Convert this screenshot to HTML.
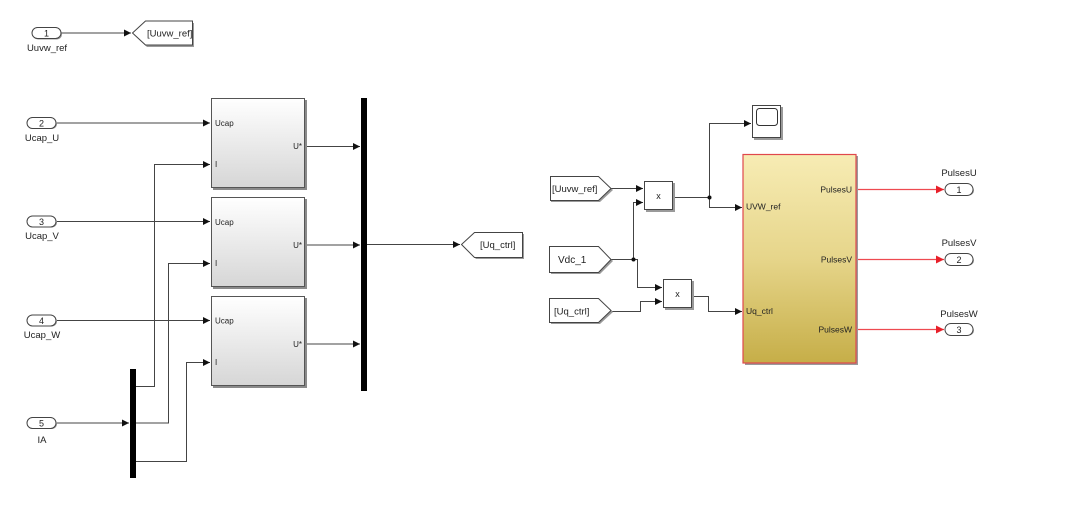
<!DOCTYPE html>
<html>
<head>
<meta charset="utf-8">
<style>
html,body{margin:0;padding:0;background:#fff;}
svg{display:block;}
text{font-family:"Liberation Sans",Arial,sans-serif;fill:#222;}
</style>
</head>
<body>
<svg width="1080" height="509" viewBox="0 0 1080 509" xmlns="http://www.w3.org/2000/svg">
<defs>
<linearGradient id="gsub" x1="0" y1="0" x2="0" y2="1">
<stop offset="0" stop-color="#ffffff"/>
<stop offset="1" stop-color="#d6d6d6"/>
</linearGradient>
<linearGradient id="gyel" x1="0" y1="0" x2="0" y2="1">
<stop offset="0" stop-color="#f7ecb4"/>
<stop offset="0.5" stop-color="#e6d58a"/>
<stop offset="1" stop-color="#c6ae48"/>
</linearGradient>
<marker id="ar" markerWidth="8" markerHeight="8" refX="7" refY="3.5" orient="auto" markerUnits="userSpaceOnUse">
<path d="M0,0 L7,3.5 L0,7 z" fill="#111"/>
</marker>
<marker id="arr" markerWidth="10" markerHeight="10" refX="8" refY="4" orient="auto" markerUnits="userSpaceOnUse">
<path d="M0,0 L8,4 L0,8 z" fill="#e8202a"/>
</marker>
</defs>

<g stroke="#444" stroke-width="1" fill="none">
<!-- inport 1 to goto -->
<polyline points="61,33 131,33" marker-end="url(#ar)"/>
<!-- inports 2-4 -->
<polyline points="57,123 210,123" marker-end="url(#ar)"/>
<polyline points="57,221.5 210,221.5" marker-end="url(#ar)"/>
<polyline points="57,320.5 210,320.5" marker-end="url(#ar)"/>
<!-- inport 5 to demux -->
<polyline points="57,423 129,423" marker-end="url(#ar)"/>
<!-- demux outputs -->
<polyline points="136,386.5 154.5,386.5 154.5,164.5 210,164.5" marker-end="url(#ar)"/>
<polyline points="136,423 168.5,423 168.5,263.5 210,263.5" marker-end="url(#ar)"/>
<polyline points="136,461.5 186.5,461.5 186.5,362.5 210,362.5" marker-end="url(#ar)"/>
<!-- U* outputs -->
<polyline points="306,146.5 360,146.5" marker-end="url(#ar)"/>
<polyline points="306,245 360,245" marker-end="url(#ar)"/>
<polyline points="306,344 360,344" marker-end="url(#ar)"/>
<!-- mux out -->
<polyline points="367,244.5 460,244.5" marker-end="url(#ar)"/>

<!-- right side -->
<polyline points="611,188.5 643,188.5" marker-end="url(#ar)"/>
<polyline points="611,259.5 633.5,259.5 633.5,202.5 643,202.5" marker-end="url(#ar)"/>
<polyline points="633.5,259.5 637.5,259.5 637.5,287.5 662,287.5" marker-end="url(#ar)"/>
<polyline points="611,311.5 640.5,311.5 640.5,301.5 662,301.5" marker-end="url(#ar)"/>
<polyline points="673,197.5 709.5,197.5"/>
<polyline points="709.5,197.5 709.5,123.5 751,123.5" marker-end="url(#ar)"/>
<polyline points="709.5,197.5 709.5,207.5 742,207.5" marker-end="url(#ar)"/>
<polyline points="692,296.5 708.5,296.5 708.5,311.5 742,311.5" marker-end="url(#ar)"/>
</g>
<circle cx="709.5" cy="197.5" r="2" fill="#111"/>
<circle cx="633.5" cy="259.5" r="2" fill="#111"/>

<!-- red outputs -->
<g stroke="#ee4a50" stroke-width="1.2" fill="none">
<polyline points="856,189.5 944,189.5" marker-end="url(#arr)"/>
<polyline points="856,259.5 944,259.5" marker-end="url(#arr)"/>
<polyline points="856,329.5 944,329.5" marker-end="url(#arr)"/>
</g>

<!-- Inports -->
<g>
<rect x="33" y="29.5" width="29" height="10" rx="5" fill="#9a9a9a"/>
<rect x="32" y="27.5" width="29" height="11" rx="5.5" fill="#fff" stroke="#444"/>
<text x="46.5" y="36.5" font-size="9" text-anchor="middle">1</text>
<text x="47" y="51" font-size="9.5" text-anchor="middle">Uuvw_ref</text>

<rect x="28" y="119" width="29" height="10" rx="5" fill="#9a9a9a"/>
<rect x="27" y="117.5" width="29" height="11" rx="5.5" fill="#fff" stroke="#444"/>
<text x="41.5" y="126.5" font-size="9" text-anchor="middle">2</text>
<text x="42" y="141" font-size="9.5" text-anchor="middle">Ucap_U</text>

<rect x="28" y="217.5" width="29" height="10" rx="5" fill="#9a9a9a"/>
<rect x="27" y="216" width="29" height="11" rx="5.5" fill="#fff" stroke="#444"/>
<text x="41.5" y="225" font-size="9" text-anchor="middle">3</text>
<text x="42" y="239" font-size="9.5" text-anchor="middle">Ucap_V</text>

<rect x="28" y="316.5" width="29" height="10" rx="5" fill="#9a9a9a"/>
<rect x="27" y="315" width="29" height="11" rx="5.5" fill="#fff" stroke="#444"/>
<text x="41.5" y="324" font-size="9" text-anchor="middle">4</text>
<text x="42" y="338" font-size="9.5" text-anchor="middle">Ucap_W</text>

<rect x="28" y="419" width="29" height="10" rx="5" fill="#9a9a9a"/>
<rect x="27" y="417.5" width="29" height="11" rx="5.5" fill="#fff" stroke="#444"/>
<text x="41.5" y="426.5" font-size="9" text-anchor="middle">5</text>
<text x="42" y="443" font-size="9.5" text-anchor="middle">IA</text>
</g>

<!-- Goto [Uuvw_ref] -->
<polygon points="134,35 147,23 194,23 194,47 147,47" fill="#9a9a9a"/>
<polygon points="132.5,33 145.5,21 192.5,21 192.5,45 145.5,45" fill="#fff" stroke="#444"/>
<text x="147" y="36.5" font-size="9.5">[Uuvw_ref]</text>

<!-- Goto [Uq_ctrl] -->
<polygon points="463,246 476,234 524,234 524,259 476,259" fill="#9a9a9a"/>
<polygon points="461.5,244.5 474.5,232.5 522.5,232.5 522.5,257.5 474.5,257.5" fill="#fff" stroke="#444"/>
<text x="480" y="248" font-size="9.5">[Uq_ctrl]</text>

<!-- Subsystem blocks -->
<g>
<rect x="213" y="100" width="94" height="90" fill="#8a8a8a"/>
<rect x="211.5" y="98.5" width="93" height="89" fill="url(#gsub)" stroke="#555"/>
<text x="215" y="126" font-size="8">Ucap</text>
<text x="215" y="167" font-size="8">I</text>
<text x="302" y="149" font-size="8" text-anchor="end">U*</text>

<rect x="213" y="199" width="94" height="90" fill="#8a8a8a"/>
<rect x="211.5" y="197.5" width="93" height="89" fill="url(#gsub)" stroke="#555"/>
<text x="215" y="225" font-size="8">Ucap</text>
<text x="215" y="266" font-size="8">I</text>
<text x="302" y="248" font-size="8" text-anchor="end">U*</text>

<rect x="213" y="298" width="94" height="90" fill="#8a8a8a"/>
<rect x="211.5" y="296.5" width="93" height="89" fill="url(#gsub)" stroke="#555"/>
<text x="215" y="323.5" font-size="8">Ucap</text>
<text x="215" y="365" font-size="8">I</text>
<text x="302" y="347" font-size="8" text-anchor="end">U*</text>
</g>

<!-- Mux / Demux bars -->
<rect x="361" y="98" width="6" height="293" fill="#000"/>
<rect x="130" y="369" width="6" height="109" fill="#000"/>

<!-- From blocks -->
<polygon points="551,178 600,178 613,190 600,202 551,202" fill="#9a9a9a"/>
<polygon points="550.5,176.5 598.5,176.5 611,188.5 598.5,200.5 550.5,200.5" fill="#fff" stroke="#444"/>
<text x="552" y="192" font-size="9.5">[Uuvw_ref]</text>

<polygon points="551,248 600,248 613,261 600,274 551,274" fill="#9a9a9a"/>
<polygon points="549.5,246.5 598.5,246.5 611,259.5 598.5,272.5 549.5,272.5" fill="#fff" stroke="#444"/>
<text x="558" y="263" font-size="10">Vdc_1</text>

<polygon points="551,300 600,300 613,312 600,324 551,324" fill="#9a9a9a"/>
<polygon points="549.5,298.5 598.5,298.5 611,310.5 598.5,322.5 549.5,322.5" fill="#fff" stroke="#444"/>
<text x="554" y="314.5" font-size="9.5">[Uq_ctrl]</text>

<!-- Product blocks -->
<rect x="646" y="183" width="29" height="29" fill="#9a9a9a"/>
<rect x="644.5" y="181.5" width="28" height="28" fill="#fff" stroke="#444"/>
<text x="658.5" y="199" font-size="9" text-anchor="middle">x</text>

<rect x="665" y="281" width="29" height="29" fill="#9a9a9a"/>
<rect x="663.5" y="279.5" width="28" height="28" fill="#fff" stroke="#444"/>
<text x="677.5" y="297" font-size="9" text-anchor="middle">x</text>

<!-- Scope -->
<rect x="754" y="107" width="29" height="33" fill="#9a9a9a"/>
<rect x="752.5" y="105.5" width="28" height="32" fill="#fff" stroke="#444"/>
<rect x="756.5" y="108.5" width="21" height="17" rx="3" fill="#fff" stroke="#333"/>

<!-- Yellow subsystem -->
<rect x="745" y="156" width="113" height="209" fill="#9a9a9a"/>
<rect x="743" y="154.5" width="113" height="208.5" fill="url(#gyel)" stroke="#e0484c" stroke-width="1.2"/>
<text x="746" y="209.5" font-size="8.5">UVW_ref</text>
<text x="746" y="314" font-size="8.5">Uq_ctrl</text>
<text x="852" y="192.5" font-size="8.5" text-anchor="end">PulsesU</text>
<text x="852" y="262.5" font-size="8.5" text-anchor="end">PulsesV</text>
<text x="852" y="332.5" font-size="8.5" text-anchor="end">PulsesW</text>

<!-- Outports -->
<rect x="946" y="185.5" width="28" height="10" rx="5" fill="#9a9a9a"/>
<rect x="945" y="183.5" width="28" height="12" rx="6" fill="#fff" stroke="#444"/>
<text x="959" y="193" font-size="9" text-anchor="middle">1</text>
<text x="959" y="176" font-size="9.5" text-anchor="middle">PulsesU</text>

<rect x="946" y="255.5" width="28" height="10" rx="5" fill="#9a9a9a"/>
<rect x="945" y="253.5" width="28" height="12" rx="6" fill="#fff" stroke="#444"/>
<text x="959" y="263" font-size="9" text-anchor="middle">2</text>
<text x="959" y="246" font-size="9.5" text-anchor="middle">PulsesV</text>

<rect x="946" y="325.5" width="28" height="10" rx="5" fill="#9a9a9a"/>
<rect x="945" y="323.5" width="28" height="12" rx="6" fill="#fff" stroke="#444"/>
<text x="959" y="333" font-size="9" text-anchor="middle">3</text>
<text x="959" y="317" font-size="9.5" text-anchor="middle">PulsesW</text>
</svg>
</body>
</html>
